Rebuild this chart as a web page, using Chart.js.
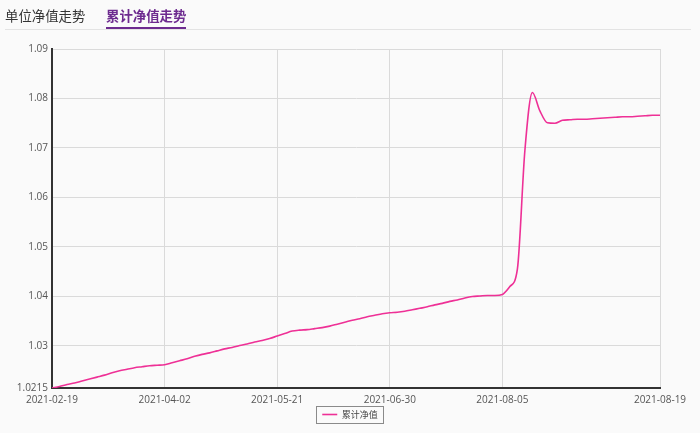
<!DOCTYPE html>
<html>
<head>
<meta charset="utf-8">
<script src="https://cdn.jsdelivr.net/npm/chart.js@4.4.0/dist/chart.umd.min.js"></script>
<style>
body{margin:0;background:#fafafa;}
.wrap{position:relative;width:700px;height:433px;overflow:hidden;}
.tabs{position:absolute;left:5px;top:0;width:686px;height:29px;border-bottom:1px solid #e3e3e3;font-family:"Noto Sans CJK SC",sans-serif;font-size:13.4px;z-index:2;}
.tab{position:absolute;top:5px;line-height:20px;color:#333;}
.tab.active{left:101px;color:#6d2b8f;font-weight:bold;}
.tab.active:after{content:"";position:absolute;left:0;right:0;top:22px;height:2px;background:#6d2b8f;}
#navChart{position:absolute;left:0;top:0;}
</style>
</head>
<body>
<div class="wrap">
  <div class="tabs">
    <span class="tab" style="left:0">单位净值走势</span>
    <span class="tab active">累计净值走势</span>
  </div>
  <canvas id="navChart" width="700" height="433"></canvas>
</div>
<script>
// 累计净值 data, one value per trading point
const tickDates = ['2021-02-19', '2021-04-02', '2021-05-21', '2021-06-30', '2021-08-05', '2021-08-19'];
const tickIndex = [0, 15, 30, 45, 60, 81];
const yTicks = [1.0215, 1.03, 1.04, 1.05, 1.06, 1.07, 1.08, 1.09];

const navValues = [
    1.0215, 1.0218, 1.0222, 1.0225, 1.0229, 1.0233, 1.0237, 1.0241, 1.0246, 1.0250,
    1.0253, 1.0256, 1.0258, 1.0260, 1.0261, 1.0262, 1.0266, 1.0270, 1.0274, 1.0279,
    1.0283, 1.0286, 1.0290, 1.0294, 1.0297, 1.0301, 1.0304, 1.0308, 1.0311, 1.0315,
    1.0320, 1.0325, 1.0330, 1.0332, 1.0333, 1.0335, 1.0337, 1.0340, 1.0344, 1.0348,
    1.0352, 1.0355, 1.0359, 1.0362, 1.0365, 1.0367, 1.0368, 1.0370, 1.0373, 1.0376,
    1.0379, 1.0383, 1.0386, 1.0390, 1.0393, 1.0397, 1.0400, 1.0401, 1.0402, 1.0402,
    1.0404, 1.0420, 1.0455, 1.0695, 1.0812, 1.0775, 1.0751, 1.0750, 1.0756, 1.0757,
    1.0758, 1.0758, 1.0759, 1.0760, 1.0761, 1.0762, 1.0763, 1.0763, 1.0764, 1.0765,
    1.0766, 1.0766
];

const tickFont = {family: 'Open Sans', size: 10};

// legend sits a bit right of canvas center, with a thin box around it
const legendBox = {
    id: 'legendBox',
    afterLayout(chart) {
        const lg = chart.legend;
        if (!lg) return;
        const shift = 350 - (lg.left + lg.right) / 2;
        lg.left += shift;
        lg.right += shift;
    },
    afterDraw(chart) {
        const hb = chart.legend && chart.legend.legendHitBoxes[0];
        if (!hb) return;
        const ctx = chart.ctx;
        const cy = Math.round(hb.top + hb.height / 2);
        ctx.save();
        ctx.strokeStyle = '#8a8a8a';
        ctx.lineWidth = 1;
        ctx.strokeRect(Math.round(hb.left) - 5.5, cy - 8.5, Math.round(hb.width) + 11, 17);
        ctx.restore();
    }
};

const canvas = document.getElementById('navChart');

new Chart(canvas, {
    type: 'line',
    data: {
        datasets: [{
            label: '累计净值',
            data: navValues.map((v, i) => ({x: i, y: v})),
            borderColor: '#ee3096',
            backgroundColor: '#ee3096',
            borderWidth: 1.6,
            pointRadius: 0,
            pointHoverRadius: 0,
            cubicInterpolationMode: 'monotone',
            fill: false
        }]
    },
    options: {
        responsive: false,
        animation: false,
        layout: {padding: {left: 0, right: 40, top: 49, bottom: 4}},
        plugins: {
            tooltip: {enabled: false},
            legend: {
                position: 'bottom',
                labels: {
                    usePointStyle: true,
                    pointStyle: 'line',
                    pointStyleWidth: 15,
                    padding: 5,
                    color: '#444',
                    font: {family: 'Noto Sans CJK SC', size: 9}
                }
            }
        },
        scales: {
            x: {
                type: 'linear',
                min: 0,
                max: navValues.length - 1,
                afterBuildTicks: s => { s.ticks = tickIndex.map(v => ({value: v})); },
                afterFit: s => { s.height = 17; },
                grid: {color: '#dadada', drawTicks: false},
                border: {color: '#333', width: 2},
                ticks: {
                    autoSkip: false,
                    maxRotation: 0,
                    padding: 6,
                    color: '#555',
                    font: tickFont,
                    callback: v => tickDates[tickIndex.indexOf(v)]
                }
            },
            y: {
                min: yTicks[0],
                max: yTicks[yTicks.length - 1],
                afterBuildTicks: s => { s.ticks = yTicks.map(v => ({value: v})); },
                afterFit: s => { s.width = 52; },
                grid: {color: '#dadada', drawTicks: false},
                border: {color: '#333', width: 2},
                ticks: {
                    padding: 4,
                    color: '#555',
                    font: tickFont,
                    callback: v => String(v)
                }
            }
        }
    },
    plugins: [legendBox]
});
</script>
</body>
</html>
